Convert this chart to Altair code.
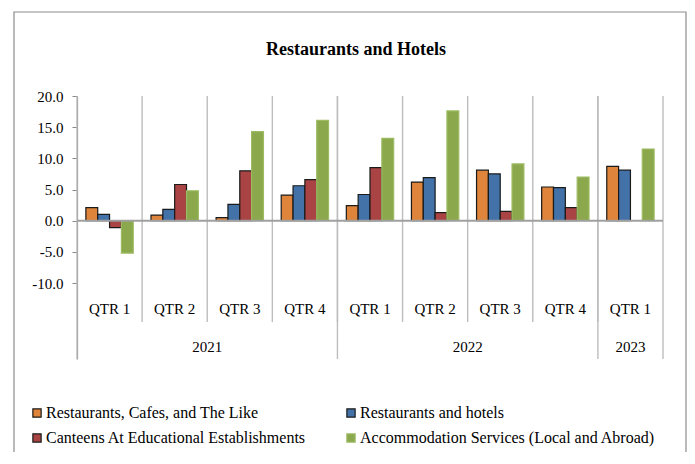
import altair as alt
import pandas as pd

# ---- data ----
title_text = ["Restaurants and Hotels"]
quarters = ["QTR 1", "QTR 2", "QTR 3", "QTR 4", "QTR 1", "QTR 2", "QTR 3", "QTR 4", "QTR 1"]
years = ["2021", "2021", "2021", "2021", "2022", "2022", "2022", "2022", "2023"]
series_names = [
    "Restaurants, Cafes, and The Like",
    "Restaurants and hotels",
    "Canteens At Educational Establishments",
    "Accommodation Services (Local and Abroad)",
]
cafes = [2.1, 0.9, 0.5, 4.1, 2.4, 6.2, 8.1, 5.4, 8.7]
hotels = [1.0, 1.8, 2.6, 5.6, 4.2, 6.9, 7.5, 5.3, 8.1]
canteens = [-1.1, 5.8, 8.0, 6.6, 8.5, 1.3, 1.5, 2.1, None]
accommodation = [-5.2, 4.8, 14.3, 16.1, 13.2, 17.6, 9.1, 7.0, 11.5]
y_ticks = [-10, -5, 0, 5, 10, 15, 20]

fill_of = dict(zip(series_names, ["#DE843B", "#4272A8", "#AA4444", "#8BA84D"]))
stroke_of = dict(zip(series_names, ["#1A1A1A", "#1A1A1A", "#1A1A1A", "#9DBB62"]))
FONT = "Liberation Serif, DejaVu Serif, serif"

# legend is laid out column by column: order so rows read as in the reference
legend_order = [series_names[0], series_names[2], series_names[1], series_names[3]]

# ---- tables built from the arrays ----
qids = [f"{y} {q}" for y, q in zip(years, quarters)]
rows = []
for i, qid in enumerate(qids):
    for name, vals in zip(series_names, [cafes, hotels, canteens, accommodation]):
        if vals[i] is not None:
            rows.append({"qid": qid, "series": name, "value": vals[i]})
bar_df = pd.DataFrame(rows)

n = len(quarters)
qlab_df = pd.DataFrame({"pos": [i + 0.5 for i in range(n)], "label": quarters})
qsep_df = pd.DataFrame({"k": list(range(1, n))})
ybounds = [0] + [i for i in range(1, n) if years[i] != years[i - 1]] + [n]
ysep_df = pd.DataFrame({"k": ybounds})
ylab_df = pd.DataFrame({
    "pos": [(ybounds[j] + ybounds[j + 1]) / 2 for j in range(len(ybounds) - 1)],
    "label": [years[ybounds[j]] for j in range(len(ybounds) - 1)],
})

qscale = alt.Scale(domain=[0, n], nice=False, zero=False)
yscale = alt.Scale(domain=[-22.19, 20], nice=False)

leg = alt.Legend(
    title=None, orient="none", legendX=-48, legendY=309, columns=2,
    columnPadding=37, rowPadding=9, symbolType="square", symbolSize=68,
    symbolStrokeWidth=1.2, labelFont=FONT, labelFontSize=16, labelColor="black",
    labelOffset=1, padding=0, labelLimit=400,
)

frame = alt.Chart(pd.DataFrame({"a": [0]})).mark_rect(
    filled=False, stroke="#8C8C8C", strokeWidth=1.2
).encode(x=alt.value(-63), x2=alt.value(609), y=alt.value(-84), y2=alt.value(420))

title = alt.Chart(pd.DataFrame({"t": title_text})).mark_text(
    font=FONT, fontSize=18, fontWeight="bold", color="black", baseline="middle", align="center"
).encode(x=alt.value(279), y=alt.value(-46), text="t:N")

qsep = alt.Chart(qsep_df).mark_rule(color="#BDBDBD", strokeWidth=1.4).encode(
    x=alt.X("k:Q", scale=qscale, axis=None), y=alt.value(0), y2=alt.value(226)
)
ysep = alt.Chart(ysep_df).mark_rule(color="#BDBDBD", strokeWidth=1.4).encode(
    x=alt.X("k:Q", scale=qscale, axis=None), y=alt.value(0), y2=alt.value(263)
)

bars = alt.Chart(bar_df).mark_bar(strokeWidth=1.2).encode(
    x=alt.X("qid:N", sort=qids, scale=alt.Scale(paddingInner=0, paddingOuter=0), axis=None),
    xOffset=alt.XOffset("series:N", sort=series_names,
                        scale=alt.Scale(domain=series_names, paddingInner=0, paddingOuter=0.75)),
    y=alt.Y("value:Q", scale=yscale, axis=alt.Axis(
        values=y_ticks, title=None, grid=False, tickSize=5, labelPadding=9,
        tickColor="#888888", domainColor="#888888", domainWidth=1.2,
        labelFont=FONT, labelFontSize=15, labelColor="black",
        labelExpr="replace(format(datum.value, '.1f'), '\u2212', '-')")),
    color=alt.Color("series:N", scale=alt.Scale(domain=legend_order,
                    range=[fill_of[s] for s in legend_order]), legend=leg),
    stroke=alt.Stroke("series:N", scale=alt.Scale(domain=legend_order,
                      range=[stroke_of[s] for s in legend_order]), legend=leg),
)

zero = alt.Chart(pd.DataFrame({"a": [0]})).mark_rule(color="#A0A0A0", strokeWidth=2).encode(
    y=alt.datum(0, scale=yscale)
)

qlab = alt.Chart(qlab_df).mark_text(font=FONT, fontSize=15, color="black", baseline="middle").encode(
    x=alt.X("pos:Q", scale=qscale, axis=None), y=alt.value(213), text="label:N"
)
ylab = alt.Chart(ylab_df).mark_text(font=FONT, fontSize=15, color="black", baseline="middle").encode(
    x=alt.X("pos:Q", scale=qscale, axis=None), y=alt.value(251), text="label:N"
)

chart = alt.layer(frame, title, qsep, ysep, bars, zero, qlab, ylab).resolve_scale(
    x="independent"
).properties(
    width=586, height=263,
    autosize=alt.AutoSizeParams(type="none"),
    padding={"left": 69, "top": 88, "right": 24, "bottom": 93},
).configure_view(strokeWidth=0)

chart.save("out.html", embed_options={"renderer": "svg", "actions": False})
